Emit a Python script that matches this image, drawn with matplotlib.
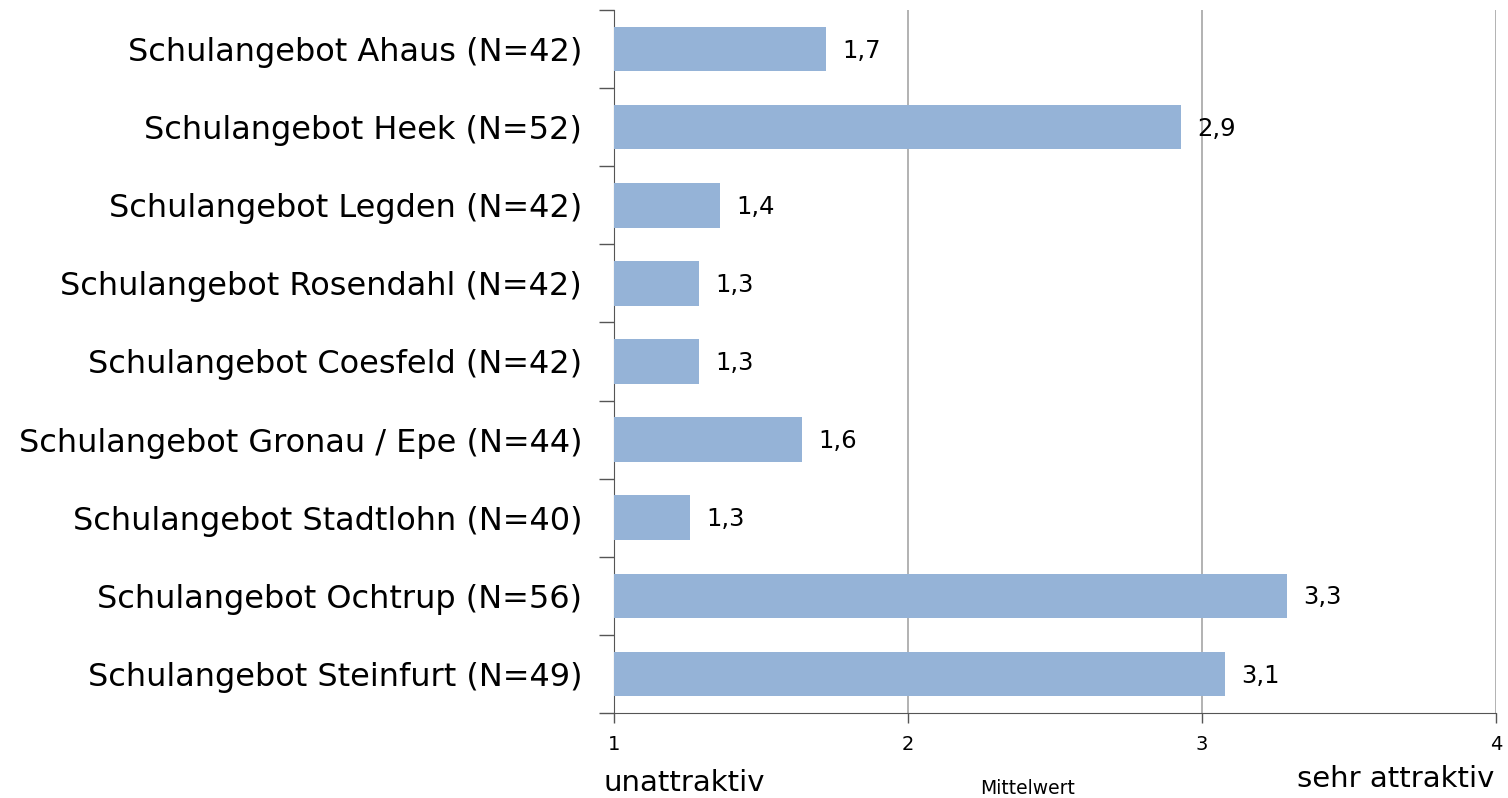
import numpy as np
import matplotlib.pyplot as plt

# Daten (Mittelwerte, 1 = unattraktiv, 4 = sehr attraktiv)
kategorien = ["Schulangebot Ahaus (N=42)",
              "Schulangebot Heek (N=52)",
              "Schulangebot Legden (N=42)",
              "Schulangebot Rosendahl (N=42)",
              "Schulangebot Coesfeld (N=42)",
              "Schulangebot Gronau / Epe (N=44)",
              "Schulangebot Stadtlohn (N=40)",
              "Schulangebot Ochtrup (N=56)",
              "Schulangebot Steinfurt (N=49)"]
mittelwerte = [1.72, 2.93, 1.36, 1.29, 1.29, 1.64, 1.26, 3.29, 3.08]
x_ticks = [1, 2, 3, 4]

plt.rcParams['font.family'] = ['DejaVu Sans']

fig = plt.figure(figsize=(15.08, 7.98), dpi=100)
ax = fig.add_axes([0.4072, 0.1065, 0.5848, 0.881])

y = np.arange(len(kategorien))
ax.barh(y, np.array(mittelwerte) - 1, left=1, height=0.57, color='#95b3d7', zorder=3)

for yi, v in zip(y, mittelwerte):
    ax.text(v + 0.055, yi + 0.02, f"{v:.1f}".replace('.', ','), va='center', ha='left',
            fontsize=17.5, zorder=4)

ax.set_xlim(1, 4)
ax.set_ylim(len(kategorien) - 0.5, -0.5)
ax.set_xticks(x_ticks)
ax.set_xticklabels([str(t) for t in x_ticks], fontsize=14)
ax.tick_params(axis='x', length=7, width=1, color='#555555', pad=9)

ax.set_yticks(y, minor=False)
ax.set_yticklabels(kategorien, fontsize=23)
ax.tick_params(axis='y', which='major', length=0, pad=23)
ax.set_yticks(np.arange(-0.5, len(kategorien), 1), minor=True)
ax.tick_params(axis='y', which='minor', length=11, width=1, color='#555555')

ax.grid(axis='x', color='#a6a6a6', linewidth=1.2, zorder=0)
for s in ['top', 'right']:
    ax.spines[s].set_visible(False)
ax.spines['left'].set_color('#555555')
ax.spines['bottom'].set_color('#555555')

fig.text(603 / 1508, 1 - 783 / 798, "unattraktiv", fontsize=21, ha='left', va='center')
fig.text(1494 / 1508, 1 - 779 / 798, "sehr attraktiv", fontsize=21, ha='right', va='center')
fig.text(1028 / 1508, 1 - 789 / 798, "Mittelwert", fontsize=13.5, ha='center', va='center')

plt.savefig('out.png', dpi=100)
